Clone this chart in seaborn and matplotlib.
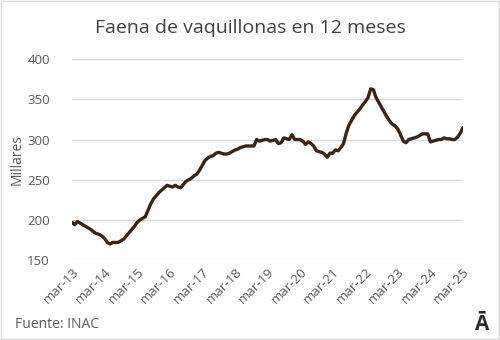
import numpy as np
import pandas as pd
import matplotlib
matplotlib.use("Agg")
import matplotlib.pyplot as plt
import seaborn as sns
from matplotlib.patches import Rectangle

# monthly values, mar-13 .. mar-25 (thousands of heifers, 12-month rolling)
faena = [
    197, 194, 198, 196, 194, 192, 190, 188, 185, 183, 182, 180,   # mar13-feb14
    177, 172, 170, 172, 172, 172, 174, 176, 180, 184, 188, 192,   # mar14-feb15
    197, 200, 202, 204, 212, 220, 226, 230, 234, 237, 240, 243,   # mar15-feb16
    242, 241, 243, 241, 240, 244, 248, 250, 252, 255, 257, 262,   # mar16-feb17
    268, 274, 277, 279, 280, 283, 284, 283, 282, 282, 283, 285,   # mar17-feb18
    287, 288, 290, 291, 292, 292, 292, 292, 300, 298, 299, 300,   # mar18-feb19
    300, 298, 299, 300, 295, 296, 302, 301, 300, 306, 300, 300,   # mar19-feb20
    300, 298, 294, 297, 295, 292, 286, 285, 284, 282, 278, 283,   # mar20-feb21
    283, 287, 286, 290, 295, 308, 318, 324, 330, 334, 338, 343,   # mar21-feb22
    347, 352, 363, 362, 352, 346, 340, 334, 328, 323, 319, 317,   # mar22-feb23
    313, 306, 298, 296, 300, 301, 302, 303, 305, 307, 307, 307,   # mar23-feb24
    297, 298, 299, 300, 300, 302, 301, 301, 300, 300, 303, 308,   # mar24-feb25
    315,                                                          # mar25
]
tick_labels = ["mar-13", "mar-14", "mar-15", "mar-16", "mar-17", "mar-18", "mar-19",
               "mar-20", "mar-21", "mar-22", "mar-23", "mar-24", "mar-25"]
y_ticks = [150, 200, 250, 300, 350, 400]

df = pd.DataFrame({"mes": np.arange(len(faena)), "faena": faena})

sns.set_style("white")
plt.rcParams["font.family"] = ["Open Sans", "DejaVu Sans"]

TXT = "#595959"

fig = plt.figure(figsize=(5, 3.4), dpi=100)
ax = fig.add_axes([0.144, 0.235, 0.782, 0.591])

sns.lineplot(data=df, x="mes", y="faena", ax=ax, color="#3a2416", linewidth=2.4)

ax.set_xlim(0, len(faena) - 1)
ax.set_ylim(150, 400)
ax.set_yticks(y_ticks)
ax.set_xticks(np.arange(0, len(faena), 12))
ax.set_xticklabels(tick_labels, rotation=45, ha="right", rotation_mode="anchor")
ax.tick_params(axis="both", length=0, labelsize=9.5, labelcolor=TXT)
ax.tick_params(axis="y", pad=16)
ax.tick_params(axis="x", pad=4)
ax.grid(axis="y", color="#d9d9d9", linewidth=1)
ax.set_axisbelow(True)
sns.despine(ax=ax, left=True, bottom=True)

ax.set_xlabel("")
ax.set_ylabel("Millares", fontsize=10, color=TXT, labelpad=2)

fig.text(0.5, 0.918, "Faena de vaquillonas en 12 meses", ha="center", va="center",
         fontsize=14, color="#404040")
fig.text(0.03, 0.045, "Fuente: INAC", ha="left", va="center", fontsize=10, color=TXT)
fig.text(0.962, 0.045, "Ā", ha="center", va="center", fontsize=15,
         fontweight="bold", color="#2b2b2b")

fig.patches.append(Rectangle((0.002, 0.003), 0.996, 0.994, transform=fig.transFigure,
                             fill=False, edgecolor="#d9d9d9", linewidth=1))

fig.savefig("out.png", dpi=100)
